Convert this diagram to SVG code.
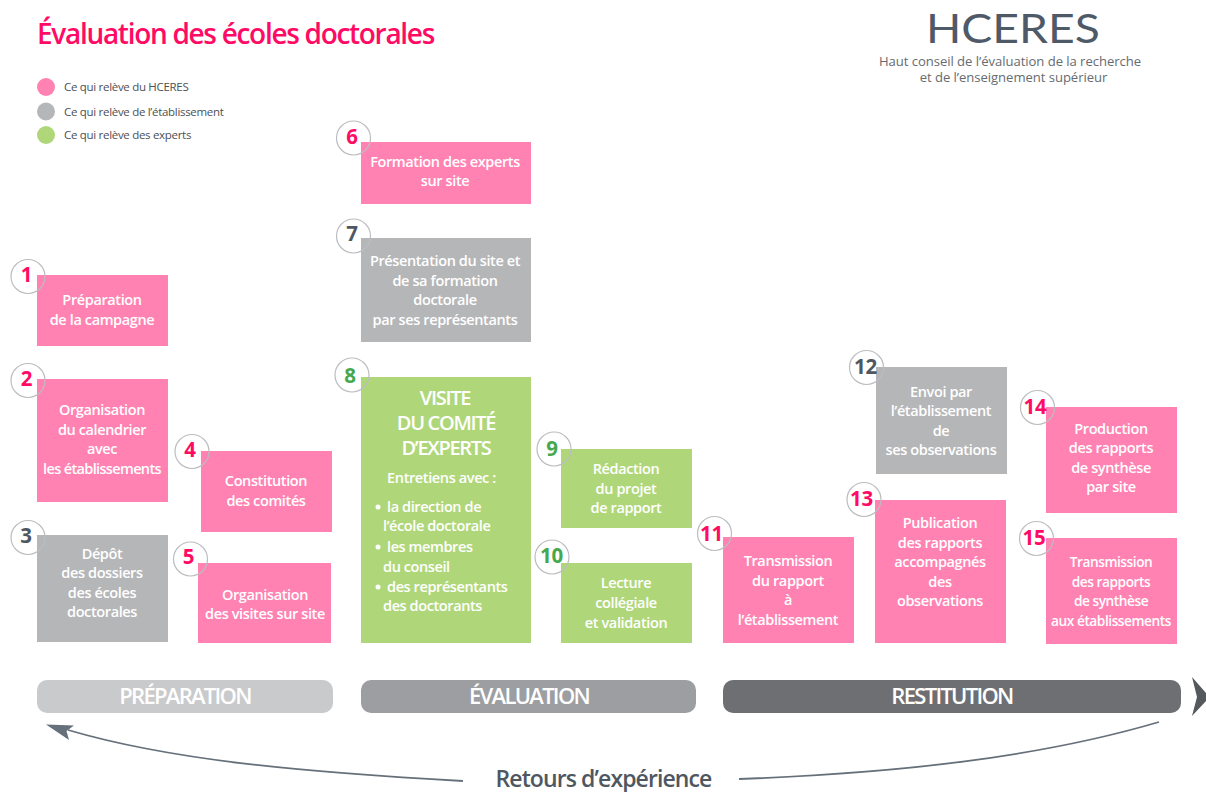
<svg xmlns="http://www.w3.org/2000/svg" width="1206" height="792" viewBox="0 0 1206 792">
<style>
text{font-family:"Open Sans","Noto Sans","Liberation Sans",sans-serif}
.b{fill:#ff82b2}.g{fill:#b5b6b8}.v{fill:#afd77a}
.t{fill:#fff;font-size:14.5px;font-weight:600;text-anchor:middle;letter-spacing:-.38px}
.s{font-size:13.7px;letter-spacing:-.45px}
.l{fill:#fff;font-size:14.5px;font-weight:600;letter-spacing:-.4px}
.big{fill:#fff;font-size:20px;font-weight:600;text-anchor:middle;letter-spacing:-1.3px}
.c{fill:none;stroke:#bcbdc0;stroke-width:1.2}
.n{font-size:20.5px;font-weight:700;text-anchor:middle;letter-spacing:-.3px}
.np{fill:#ff0a64}.ng{fill:#4f5761}.nv{fill:#46a84d}
.leg{fill:#4d5055;font-size:11.5px;letter-spacing:-.3px}
.ph{fill:#fff;font-size:22px;font-weight:600;text-anchor:middle;letter-spacing:-1.7px}
</style>
<text x="37" y="44" font-size="28" font-weight="600" fill="#ff0a64" letter-spacing="-1.3">Évaluation des écoles doctorales</text>
<g id="legend">
<circle cx="46" cy="87" r="9" class="b"/><text x="64" y="91" class="leg">Ce qui relève du HCERES</text>
<circle cx="46" cy="111.500" r="9" class="g"/><text x="64" y="116" class="leg">Ce qui relève de l’établissement</text>
<circle cx="46" cy="135" r="9" class="v"/><text x="64" y="139" class="leg">Ce qui relève des experts</text>
</g>
<g id="logo">
<text x="926" y="43" font-size="41" fill="#4f5a68" style="font-family:Lato,sans-serif" textLength="174" lengthAdjust="spacingAndGlyphs">HCERES</text>
<text x="1010" y="66" font-size="13.100" fill="#666b70" text-anchor="middle" letter-spacing="-.05">Haut conseil de l’évaluation de la recherche</text>
<text x="1013.500" y="82" font-size="13.100" fill="#666b70" text-anchor="middle" letter-spacing="-.05">et de l’enseignement supérieur</text>
</g>
<g id="node1"><rect x="37" y="275" width="131" height="71" class="b"/><circle cx="28" cy="276.500" r="17" class="c"/><text x="26.500" y="282" class="n np">1</text><text class="t"><tspan x="102" y="305">Préparation</tspan><tspan x="102" y="325">de la campagne</tspan></text></g>
<g id="node2"><rect x="37" y="379" width="131" height="123" class="b"/><circle cx="28" cy="380.500" r="17" class="c"/><text x="26.500" y="386" class="n np">2</text><text class="t"><tspan x="102" y="415">Organisation</tspan><tspan x="102" y="435">du calendrier</tspan><tspan x="102" y="454">avec</tspan><tspan x="102" y="474" style="letter-spacing:-.65px">les établissements</tspan></text></g>
<g id="node3"><rect x="37" y="535" width="131" height="107" class="g"/><circle cx="28" cy="537.500" r="17" class="c"/><text x="26" y="543" class="n ng">3</text><text class="t"><tspan x="102" y="559">Dépôt</tspan><tspan x="102" y="578">des dossiers</tspan><tspan x="102" y="598">des écoles</tspan><tspan x="102" y="617">doctorales</tspan></text></g>
<g id="node4"><rect x="201" y="451" width="131" height="81" class="b"/><circle cx="192" cy="451.500" r="17" class="c"/><text x="190" y="457" class="n np">4</text><text class="t"><tspan x="266" y="486">Constitution</tspan><tspan x="266" y="506">des comités</tspan></text></g>
<g id="node5"><rect x="198" y="563" width="133" height="80" class="b"/><circle cx="190.500" cy="559" r="17" class="c"/><text x="188.500" y="564" class="n np">5</text><text class="t"><tspan x="265" y="600">Organisation</tspan><tspan x="265" y="619">des visites sur site</tspan></text></g>
<g id="node6"><rect x="361" y="142" width="170" height="62" class="b"/><circle cx="353.500" cy="138" r="17" class="c"/><text x="352" y="144" class="n np">6</text><text class="t"><tspan x="445" y="167">Formation des experts</tspan><tspan x="445" y="186">sur site</tspan></text></g>
<g id="node7"><rect x="361" y="238" width="170" height="104" class="g"/><circle cx="353.500" cy="236" r="17" class="c"/><text x="352" y="241" class="n ng">7</text><text class="t"><tspan x="445" y="266">Présentation du site et</tspan><tspan x="445" y="286">de sa formation</tspan><tspan x="445" y="305">doctorale</tspan><tspan x="445" y="325">par ses représentants</tspan></text></g>
<g id="node8"><rect x="361" y="377" width="170" height="266" class="v"/><circle cx="352" cy="375" r="17" class="c"/><text x="350" y="383" class="n nv">8</text>
<text class="big"><tspan x="445" y="405">VISITE</tspan><tspan x="446" y="430">DU COMITÉ</tspan><tspan x="446" y="455">D’EXPERTS</tspan></text>
<text x="441.500" y="483" class="t">Entretiens avec :</text>
<circle cx="378" cy="507" r="2.500" fill="#fff"/><circle cx="378" cy="547" r="2.500" fill="#fff"/><circle cx="378" cy="587" r="2.500" fill="#fff"/>
<text class="l"><tspan x="387" y="512">la direction de</tspan><tspan x="383" y="531">l’école doctorale</tspan><tspan x="387" y="552">les membres</tspan><tspan x="383" y="572">du conseil</tspan><tspan x="387" y="592">des représentants</tspan><tspan x="383" y="611">des doctorants</tspan></text></g>
<g id="node9"><rect x="561" y="449" width="131" height="79" class="v"/><circle cx="554" cy="449" r="17" class="c"/><text x="552" y="456" class="n nv">9</text><text class="t"><tspan x="626" y="474">Rédaction</tspan><tspan x="626" y="494">du projet</tspan><tspan x="626" y="513">de rapport</tspan></text></g>
<g id="node10"><rect x="561" y="563" width="131" height="80" class="v"/><circle cx="552" cy="557" r="17" class="c"/><text x="551.500" y="563" class="n nv">10</text><text class="t"><tspan x="626" y="588">Lecture</tspan><tspan x="626" y="608">collégiale</tspan><tspan x="626" y="628">et validation</tspan></text></g>
<g id="node11"><rect x="723" y="537" width="131" height="106" class="b"/><circle cx="714.500" cy="533.500" r="17" class="c"/><text x="711.500" y="541" class="n np">11</text><text class="t"><tspan x="788" y="566">Transmission</tspan><tspan x="788" y="586">du rapport</tspan><tspan x="788" y="605">à</tspan><tspan x="788" y="625">l’établissement</tspan></text></g>
<g id="node12"><rect x="876" y="367" width="131" height="107" class="g"/><circle cx="866.500" cy="367.500" r="17" class="c"/><text x="865.500" y="374" class="n ng">12</text><text class="t"><tspan x="941" y="397">Envoi par</tspan><tspan x="941" y="416">l’établissement</tspan><tspan x="941" y="436">de</tspan><tspan x="941" y="455">ses observations</tspan></text></g>
<g id="node13"><rect x="875" y="500" width="131" height="143" class="b"/><circle cx="864" cy="499.500" r="17" class="c"/><text x="861.500" y="506" class="n np">13</text><text class="t"><tspan x="940" y="528">Publication</tspan><tspan x="940" y="548">des rapports</tspan><tspan x="940" y="567">accompagnés</tspan><tspan x="940" y="587">des</tspan><tspan x="940" y="606">observations</tspan></text></g>
<g id="node14"><rect x="1046" y="407" width="131" height="106" class="b"/><circle cx="1037.500" cy="407.500" r="17" class="c"/><text x="1035" y="414" class="n np">14</text><text class="t"><tspan x="1111" y="434">Production</tspan><tspan x="1111" y="453">des rapports</tspan><tspan x="1111" y="473">de synthèse</tspan><tspan x="1111" y="492">par site</tspan></text></g>
<g id="node15"><rect x="1046" y="538" width="131" height="106" class="b"/><circle cx="1036.500" cy="538.500" r="17" class="c"/><text x="1034" y="545" class="n np">15</text><text class="t s"><tspan x="1111" y="567">Transmission</tspan><tspan x="1111" y="587">des rapports</tspan><tspan x="1111" y="606">de synthèse</tspan><tspan x="1111" y="626">aux établissements</tspan></text></g>
<g id="phases">
<rect x="37" y="680" width="296" height="33" rx="10" fill="#c9cacc"/><text x="185" y="704" class="ph">PRÉPARATION</text>
<rect x="361" y="680" width="335" height="33" rx="10" fill="#9c9ea1"/><text x="529" y="704" class="ph">ÉVALUATION</text>
<rect x="723" y="680" width="458" height="33" rx="10" fill="#6d6f73"/><text x="952" y="704" class="ph">RESTITUTION</text>
<path d="M1192 677L1206 693V701L1192 716L1197 697Z" fill="#54595e"/>
</g>
<g id="connectors">
<path d="M1159 722C1040 757 900 773 739 779" fill="none" stroke="#66707a" stroke-width="1.800"/>
<path d="M463 781C300 772 170 760 68 730" fill="none" stroke="#66707a" stroke-width="1.800"/>
<path d="M46 724.500L74 725.500L66.500 731L69 740Z" fill="#66707a"/>
</g>
<text x="603.500" y="787" font-size="23" fill="#4f5761" text-anchor="middle" letter-spacing="-.9" font-weight="600">Retours d’expérience</text>
</svg>
